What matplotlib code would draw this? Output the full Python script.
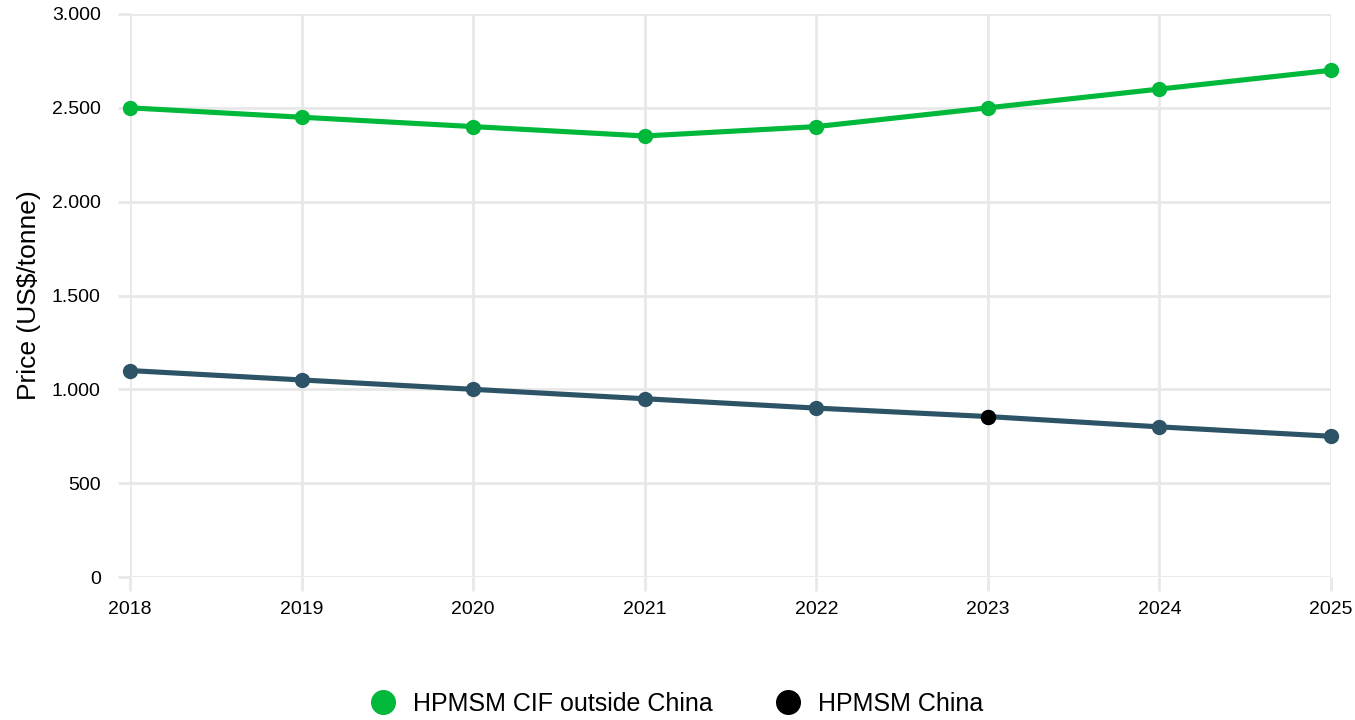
import matplotlib
matplotlib.use("Agg")
import matplotlib.pyplot as plt
from matplotlib.ticker import FuncFormatter
from matplotlib.lines import Line2D

plt.rcParams['font.family'] = ['Liberation Sans', 'DejaVu Sans']

years = [2018, 2019, 2020, 2021, 2022, 2023, 2024, 2025]
cif_outside = [2500, 2450, 2400, 2350, 2400, 2500, 2600, 2700]
china = [1100, 1050, 1000, 950, 900, 855, 800, 750]

verde = '#00b83a'
pizarra = '#2d5366'
grilla = '#e8e8e8'

fig = plt.figure(figsize=(13.55, 7.2), dpi=100)
ax = fig.add_axes([130 / 1355, 1 - 577 / 720, 1201 / 1355, 563 / 720])

ax.plot(years, cif_outside, color=verde, lw=3.7, marker='o', ms=10, clip_on=False, zorder=3)
ax.plot(years, china, color=pizarra, lw=3.7, marker='o', ms=10, clip_on=False, zorder=3)
# punto resaltado en 2023
ax.plot([years[5]], [china[5]], color='black', marker='o', ms=10, ls='none', clip_on=False, zorder=4)

ax.set_xlim(2018, 2025)
ax.set_ylim(0, 3000)
ax.set_xticks(years)
ax.set_yticks(range(0, 3001, 500))
ax.yaxis.set_major_formatter(FuncFormatter(lambda v, p: f"{int(v):,}".replace(",", ".")))

ax.grid(True, color=grilla, lw=2)
ax.set_axisbelow(True)
for s in ax.spines.values():
    s.set_visible(False)
ax.tick_params(axis='y', length=9, width=2, color=grilla, labelsize=14, pad=12)
ax.tick_params(axis='x', length=10, width=2, color=grilla, labelsize=14, pad=7)

ax.set_ylabel("Price (US$/tonne)", fontsize=19, labelpad=8)

handles = [
    Line2D([], [], ls='none', marker='o', ms=17, color=verde),
    Line2D([], [], ls='none', marker='o', ms=17, color='black'),
]
fig.legend(handles, ["HPMSM CIF outside China", "HPMSM China"], loc='center',
           bbox_to_anchor=(0.495, 1 - 704 / 720), ncol=2, frameon=False, fontsize=18,
           handletextpad=0.2, columnspacing=2.0)

fig.savefig("out.png", dpi=100)
